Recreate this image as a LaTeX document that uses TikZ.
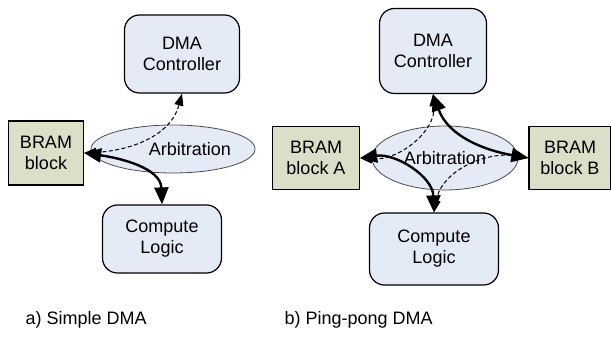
\documentclass[tikz,border=0pt]{standalone}
\usepackage{fontspec}
\setmainfont{Liberation Sans}
\usetikzlibrary{arrows.meta,shapes.geometric}

\definecolor{boxblue}{HTML}{E4EAF6}
\definecolor{bramgreen}{HTML}{DCDEC8}

\tikzset{
  unitbox/.style={draw=black, line width=1.2pt, fill=boxblue, rounded corners=15pt,
    align=center, inner sep=0pt},
  brambox/.style={draw=black, line width=1.2pt, fill=bramgreen, align=center, inner sep=0pt},
  arbiter/.style={ellipse, draw=black!70, line width=0.8pt, fill=boxblue, inner sep=0pt},
  dataflow/.style={line width=2.4pt, {Triangle[length=17pt,width=14pt]}-{Triangle[length=17pt,width=14pt]}},
  ctrlflow/.style={line width=1pt, dash pattern=on 4pt off 2.5pt,
    {Triangle[length=12pt,width=9pt]}-{Triangle[length=12pt,width=9pt]}}
}

\begin{document}
\begin{tikzpicture}[x=1pt, y=1pt, font=\fontsize{18}{21}\selectfont]
    \useasboundingbox (0,0) rectangle (611,343);

    % a) simple DMA
    \node[arbiter, minimum width=140pt, minimum height=48pt] (arbL) at (173,194) {\hspace*{34pt}Arbitration};
    \node[unitbox, minimum width=115pt, minimum height=78pt] (dmaL) at (182,289) {DMA\\Controller};
    \node[brambox, minimum width=75pt, minimum height=64pt] (bramL) at (46,190) {BRAM\\block};
    \node[unitbox, minimum width=119pt, minimum height=68pt] (compL) at (162,104) {Compute\\Logic};

    \draw[ctrlflow] (bramL.east) to[out=3, in=-105] (dmaL.south);
    \draw[dataflow] (bramL.east) to[out=-8, in=92] (compL.north);

    % b) ping-pong DMA
    \node[arbiter, minimum width=146pt, minimum height=64pt] (arbR) at (445,185) {Arbitration};
    \node[unitbox, minimum width=107pt, minimum height=85pt] (dmaR) at (433,292) {DMA\\Controller};
    \node[brambox, minimum width=87pt, minimum height=63pt] (bramA) at (316,185) {BRAM\\block A};
    \node[brambox, minimum width=82pt, minimum height=63pt] (bramB) at (570,185) {BRAM\\block B};
    \node[unitbox, minimum width=129pt, minimum height=72pt] (compR) at (434,94) {Compute\\Logic};

    \draw[ctrlflow] (dmaR.south) to[out=-85, in=-5] (bramA.east);
    \draw[ctrlflow] (compR.north) to[out=80, in=170] (bramB.west);
    \draw[dataflow] (dmaR.south) to[out=-70, in=170] (bramB.west);
    \draw[dataflow] (bramA.east) to[out=8, in=92] (compR.north);

    % captions
    \node[anchor=west] (capA) at (22,23) {a) Simple DMA};
    \node[anchor=west] (capB) at (281,23) {b) Ping-pong DMA};

\end{tikzpicture}
\end{document}
